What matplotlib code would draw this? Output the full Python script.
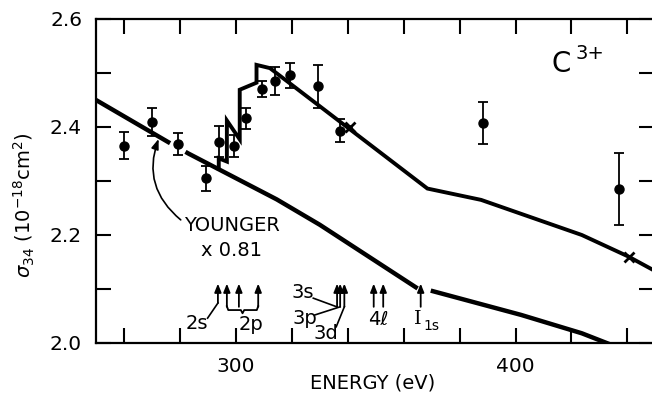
import matplotlib.pyplot as plt
import numpy as np

# Measured cross sections (points with error bars)
energy_pts = [260, 270.2, 279.5, 289.4, 293.9, 299.5, 303.8, 309.5, 314, 319.2, 329.3, 337.3, 388.3, 436.9]
sigma_pts = [2.365, 2.409, 2.369, 2.305, 2.373, 2.365, 2.416, 2.470, 2.486, 2.496, 2.475, 2.393, 2.407, 2.285]
sigma_err = [0.025, 0.026, 0.020, 0.023, 0.028, 0.020, 0.020, 0.015, 0.026, 0.023, 0.040, 0.021, 0.039, 0.066]

# Younger x 0.81 curve (gap around the 280 eV point, then break at I1s)
younger_e = [250, 276.5, np.nan, 282, 283, 314.6, 330, 365]
younger_s = [2.450, 2.370, np.nan, 2.354, 2.351, 2.266, 2.219, 2.101]
younger2_e = [369.7, 402, 423.7, 440]
younger2_s = [2.097, 2.052, 2.018, 1.985]

# Upper theory curve with threshold steps
theory_e = [293.9, 293.9, 296.8, 296.8, 301.4, 301.4, 307.4, 307.4, 312.2, 368.5, 387.7, 423.7, 440.4, 450]
theory_s = [2.323, 2.342, 2.336, 2.412, 2.377, 2.469, 2.482, 2.515, 2.509, 2.286, 2.265, 2.200, 2.160, 2.133]
cross_e = [341, 440.4]
cross_s = [2.400, 2.160]

# Threshold arrows
thr_2s = [293.6]
thr_2p = [296.8, 301.1, 308.0]
thr_3l = [336.2, 337.3, 338.8]
thr_4l = [349.3, 352.7]
thr_i1s = [366.1]

fig = plt.figure(figsize=(6.52, 4.04), dpi=100)
ax = fig.add_axes([0.1472, 0.151, 0.8558, 0.802])

ax.plot(younger_e, younger_s, color='k', lw=3.2, solid_capstyle='butt')
ax.plot(younger2_e, younger2_s, color='k', lw=3.2, solid_capstyle='butt')
ax.plot(theory_e, theory_s, color='k', lw=2.8, solid_joinstyle='miter')
ax.plot(cross_e, cross_s, 'x', color='k', ms=7, mew=2)
ax.errorbar(energy_pts, sigma_pts, yerr=sigma_err, fmt='o', color='k', ms=6.5,
            elinewidth=1.3, capsize=3.5, capthick=1.3)

# threshold arrows
akw = dict(arrowstyle='-|>,head_length=0.5,head_width=0.2', color='k', lw=1.3, shrinkA=0, shrinkB=0)
ax.annotate('', xy=(thr_2s[0], 2.110), xytext=(thr_2s[0], 2.074), arrowprops=akw)
for e in thr_2p + thr_3l + thr_4l + thr_i1s:
    ax.annotate('', xy=(e, 2.110), xytext=(e, 2.067), arrowprops=akw)

# labels for thresholds
fs = 14
ax.text(285.9, 2.037, '2s', fontsize=fs, ha='center', va='center')
ax.plot([289.9, 293.6], [2.046, 2.074], color='k', lw=1.2)
brace_x = [296.8, 297.3, 301.8, 302.4, 303.0, 307.5, 308.0]
brace_y = [2.068, 2.061, 2.061, 2.055, 2.061, 2.061, 2.068]
ax.plot(brace_x, brace_y, color='k', lw=1.3)
ax.text(305.3, 2.035, '2p', fontsize=fs, ha='center', va='center')
ax.text(324.0, 2.093, '3s', fontsize=fs, ha='center', va='center')
ax.plot([327.7, 336.1], [2.083, 2.067], color='k', lw=1.2)
ax.text(324.7, 2.046, '3p', fontsize=fs, ha='center', va='center')
ax.plot([328.3, 337.3], [2.052, 2.067], color='k', lw=1.2)
ax.text(332.3, 2.018, '3d', fontsize=fs, ha='center', va='center')
ax.plot([335.9, 338.8], [2.030, 2.067], color='k', lw=1.2)
ax.text(351.0, 2.044, '4ℓ', fontsize=fs, ha='center', va='center')
ax.text(365.2, 2.045, 'I', fontsize=fs, ha='center', va='center', family='DejaVu Serif')
ax.text(367.2, 2.032, '1s', fontsize=10, ha='left', va='center')

# Younger annotation
ax.text(298.5, 2.217, 'YOUNGER', fontsize=fs, ha='center', va='center')
ax.text(298.5, 2.172, 'x 0.81', fontsize=fs, ha='center', va='center')
ax.annotate('', xy=(272.4, 2.378), xytext=(280.3, 2.228),
            arrowprops=dict(arrowstyle='-|>,head_length=0.6,head_width=0.22', color='k', lw=1.2,
                            shrinkA=0, shrinkB=0, connectionstyle='arc3,rad=-0.35'))

ax.text(416.5, 2.517, 'C', fontsize=20, ha='center', va='center')
ax.text(426.5, 2.537, '3+', fontsize=14, ha='center', va='center')

ax.set_xlim(250, 449.5)
ax.set_ylim(2.0, 2.6)
ax.set_xticks(np.arange(260, 441, 20))
ax.set_xticklabels(['' if v not in (300, 400) else str(v) for v in range(260, 441, 20)])
yt = [2.0, 2.1, 2.2, 2.3, 2.4, 2.5, 2.6]
ax.set_yticks(yt)
ax.set_yticklabels(['2.0', '', '2.2', '', '2.4', '', '2.6'])
ax.tick_params(direction='in', length=11, width=1.5, labelsize=14.5, pad=10,
               top=True, right=True)
for s in ['left', 'bottom', 'top']:
    ax.spines[s].set_linewidth(1.6)
ax.spines['right'].set_visible(False)

fig.text(373 / 652, 1 - 383 / 404, 'ENERGY (eV)', fontsize=14, ha='center', va='center')
fig.text(24 / 652, 1 - 205 / 404, r'$\sigma_{34}$ (10$^{-18}$cm$^2$)', fontsize=14,
         rotation=90, ha='center', va='center')

fig.savefig('out.png', dpi=100)
